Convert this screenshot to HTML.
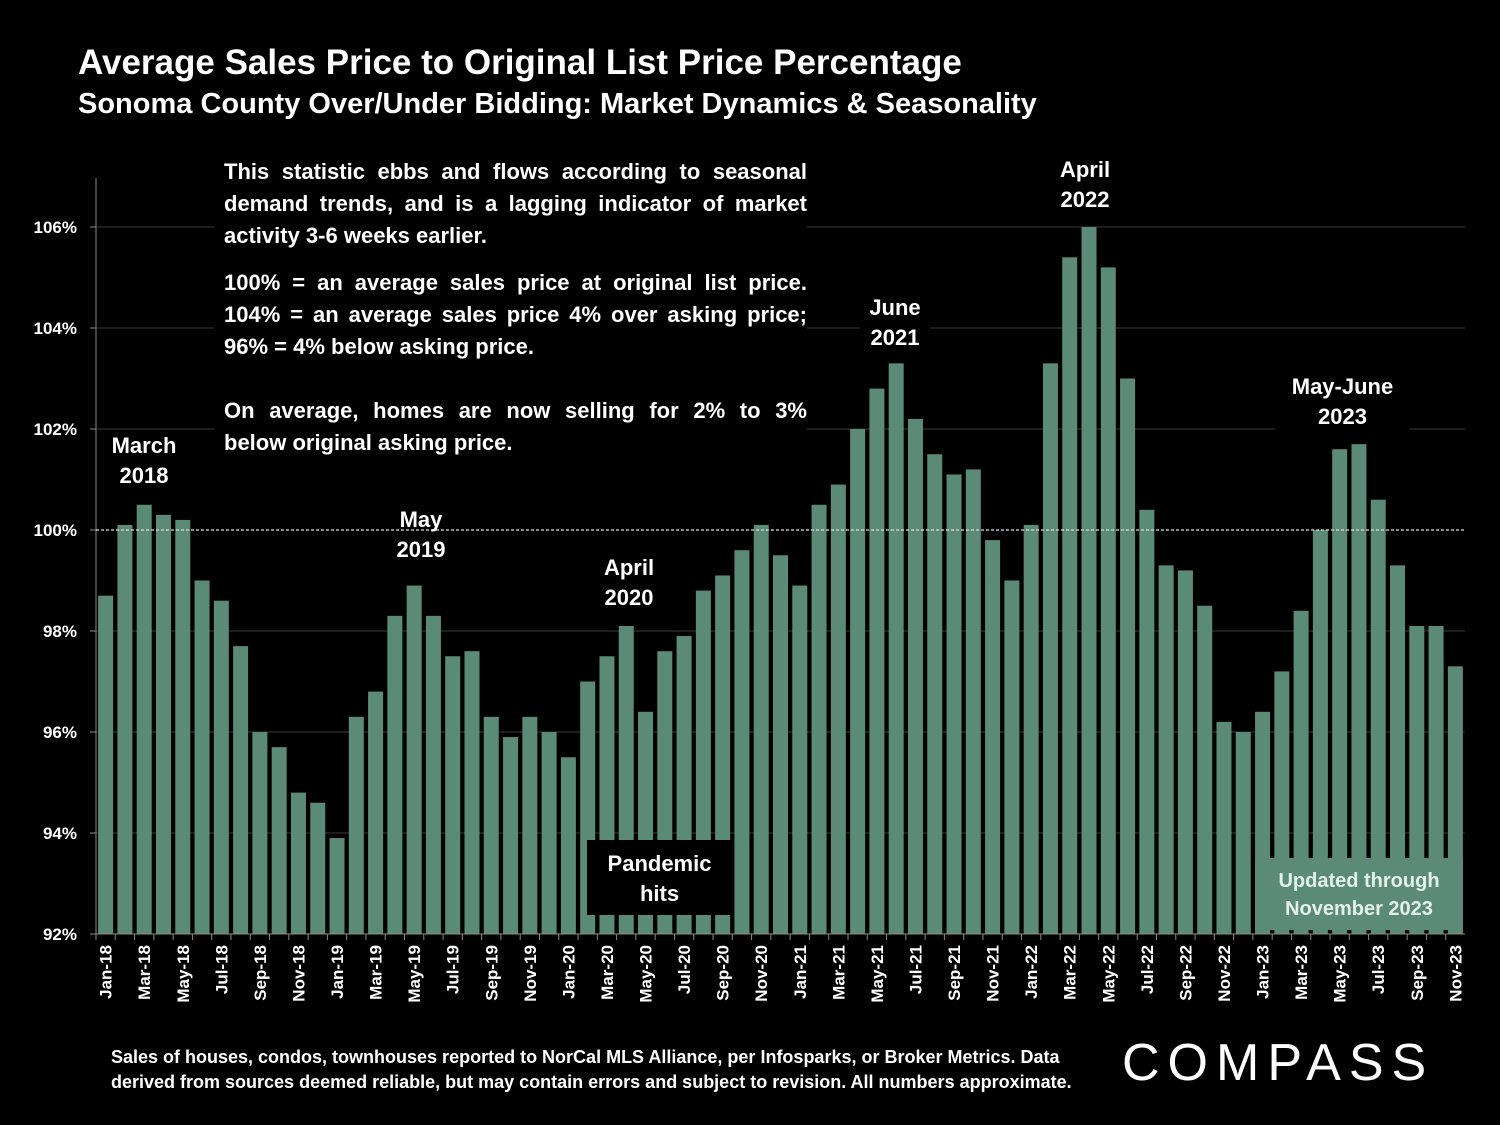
<!DOCTYPE html>
<html><head><meta charset="utf-8">
<style>
html,body{margin:0;padding:0;background:#000;}
body{width:1500px;height:1125px;position:relative;overflow:hidden;font-family:"Liberation Sans",sans-serif;color:#fff;}
.t{position:absolute;font-weight:bold;}
.note{position:absolute;font-weight:bold;font-size:22px;line-height:32px;background:#000;}
.note .j{text-align:justify;text-align-last:justify;}
.lab{position:absolute;font-weight:bold;font-size:22px;line-height:30px;text-align:center;background:#000;}
</style></head><body>
<div class="t" style="left:78px;top:43px;font-size:35px;">Average Sales Price to Original List Price Percentage</div>
<div class="t" style="left:78px;top:88px;font-size:29px;">Sonoma County Over/Under Bidding: Market Dynamics &amp; Seasonality</div>

<svg id="chart" width="1500" height="1125" style="position:absolute;left:0;top:0;"></svg>

<div class="note" style="left:214px;top:156px;width:583px;padding:0 0 0 10px;">
<div class="j">This statistic ebbs and flows according to seasonal</div>
<div class="j">demand trends, and is a lagging indicator of market</div>
<div>activity 3-6 weeks earlier.</div>
<div class="j" style="margin-top:15px;">100% = an average sales price at original list price.</div>
<div class="j">104% = an average sales price 4% over asking price;</div>
<div>96% = 4% below asking price.</div>
<div class="j" style="margin-top:32px;">On average, homes are now selling for 2% to 3%</div>
<div>below original asking price.</div>
</div>

<div class="lab" style="left:104px;top:431px;width:80px;">March<br>2018</div>
<div class="lab" style="left:386px;top:505px;width:70px;background:none;">May<br>2019</div>
<div class="lab" style="left:594px;top:553px;width:70px;">April<br>2020</div>
<div class="lab" style="left:860px;top:293px;width:70px;">June<br>2021</div>
<div class="lab" style="left:1050px;top:155px;width:70px;">April<br>2022</div>
<div class="lab" style="left:1275px;top:372px;width:135px;">May-June<br>2023</div>
<div class="lab" style="left:587px;top:840px;width:145px;height:75px;padding-top:9px;box-sizing:border-box;">Pandemic<br>hits</div>
<div class="lab" style="left:1255px;top:858px;width:208px;height:72px;background:#5b8b76;color:#e4f3ea;font-size:20px;line-height:28px;padding-top:9px;box-sizing:border-box;">Updated through<br>November 2023</div>

<div class="t" style="left:111px;top:1045px;font-size:18px;line-height:25px;">Sales of houses, condos, townhouses reported to NorCal MLS Alliance, per Infosparks, or Broker Metrics. Data<br>derived from sources deemed reliable, but may contain errors and subject to revision. All numbers approximate.</div>
<div style="position:absolute;left:1122px;top:1033px;font-size:52px;letter-spacing:8px;font-family:'Liberation Sans',sans-serif;font-weight:normal;">COMPASS</div>

<script>
const months=["Jan","Feb","Mar","Apr","May","Jun","Jul","Aug","Sep","Oct","Nov","Dec"];
const categories=[];
for(let y=18;y<=23;y++)for(let m=0;m<12;m++){if(y===23&&m>10)break;categories.push(months[m]+"-"+y);}
const values=[98.7,100.1,100.5,100.3,100.2,99.0,98.6,97.7,96.0,95.7,94.8,94.6,
93.9,96.3,96.8,98.3,98.9,98.3,97.5,97.6,96.3,95.9,96.3,96.0,
95.5,97.0,97.5,98.1,96.4,97.6,97.9,98.8,99.1,99.6,100.1,99.5,
98.9,100.5,100.9,102.0,102.8,103.3,102.2,101.5,101.1,101.2,99.8,99.0,
100.1,103.3,105.4,106.0,105.2,103.0,100.4,99.3,99.2,98.5,96.2,96.0,
96.4,97.2,98.4,100.0,101.6,101.7,100.6,99.3,98.1,98.1,97.3];
const yTicks=[92,94,96,98,100,102,104,106];
const yTickLabels=["92%","94%","96%","98%","100%","102%","104%","106%"];

const NS="http://www.w3.org/2000/svg";
const svg=document.getElementById("chart");
const x0=96,x1=1465,yBase=934,pxPer=50.5,yMin=92;
const slot=(x1-x0)/categories.length;
const yS=v=>yBase-(v-yMin)*pxPer;
const xS=i=>x0+slot*i+slot/2;
function mk(t,a){const e=document.createElementNS(NS,t);for(const k in a)e.setAttribute(k,a[k]);svg.appendChild(e);return e;}
yTicks.forEach((v,i)=>{
  if(v!==92&&v!==100){const g=mk("line",{x1:x0,x2:x1,y1:yS(v),y2:yS(v),stroke:"#3a3a3a","stroke-width":1});
  
  }
  const t=mk("text",{x:77,y:yS(v)+6,"text-anchor":"end",fill:"#fff","font-size":17,"font-weight":"bold","font-family":"Liberation Sans, sans-serif"});
  t.textContent=yTickLabels[i];
  
  
  const tk=mk("line",{x1:x0-6,x2:x0,y1:yS(v),y2:yS(v),stroke:"#888"});
  
  
});
const ax=mk("line",{x1:x0,x2:x0,y1:178,y2:yBase,stroke:"#888"});


values.forEach((v,i)=>{
  const r=mk("rect",{x:xS(i)-7.5,y:yS(v),width:15,height:yBase-yS(v),fill:"#5b8b76"});
  
  
});
const d=mk("line",{x1:x0,x2:x1,y1:yS(100),y2:yS(100),stroke:"#ddd","stroke-dasharray":"3,2","stroke-width":1.2});


const xa=mk("line",{x1:x0,x2:x1,y1:yBase,y2:yBase,stroke:"#888"});


categories.forEach((c,i)=>{
  const tk=mk("line",{x1:x0+slot*i,x2:x0+slot*i,y1:yBase,y2:yBase+6,stroke:"#888"});
  
  
  if(i%2===0){
    const t=mk("text",{x:0,y:0,"text-anchor":"end",fill:"#fff","font-size":17,"font-weight":"bold","font-family":"Liberation Sans, sans-serif",transform:`translate(${xS(i)+6},${yBase+11}) rotate(-90)`});
    t.textContent=c;
    
    
  }
});
</script>
</body></html>
